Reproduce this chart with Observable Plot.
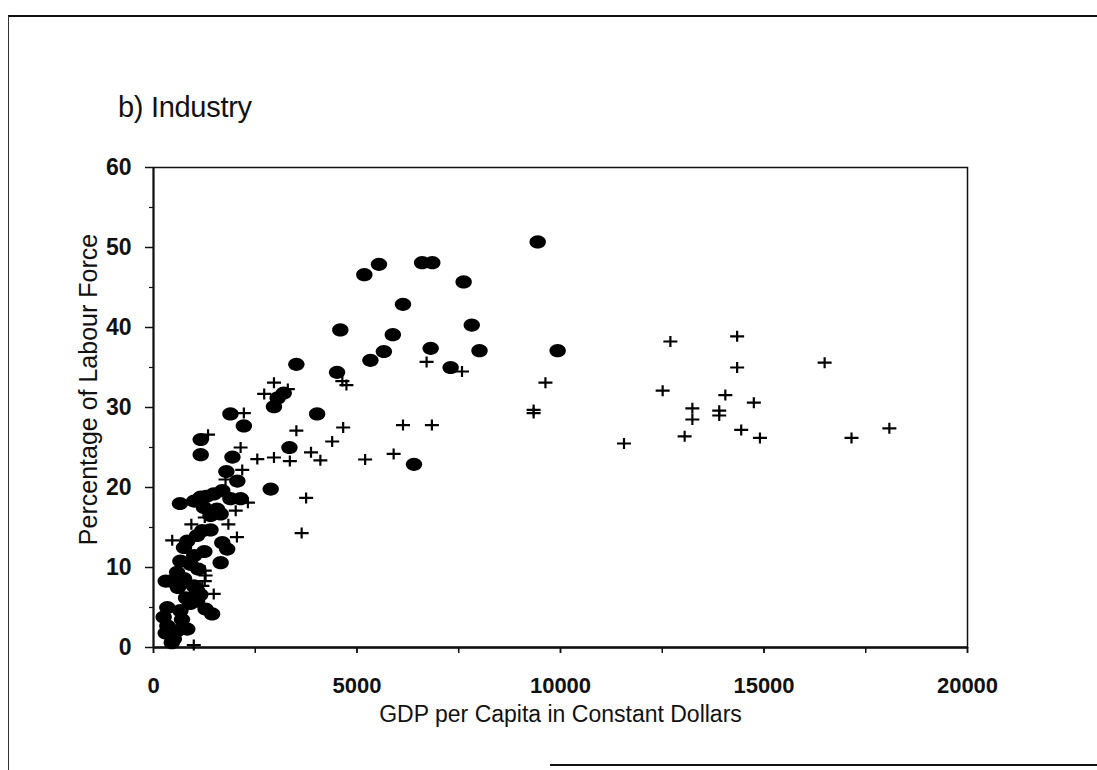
<!DOCTYPE html>
<html>
<head>
<meta charset="utf-8">
<script src="https://cdn.jsdelivr.net/npm/d3@7"></script>
<script src="https://cdn.jsdelivr.net/npm/@observablehq/plot@0.6"></script>
<style>
  html, body { margin: 0; padding: 0; background: #fff; }
  #page { position: relative; width: 1097px; height: 770px; overflow: hidden; font-family: "Liberation Sans", Arial, Helvetica, sans-serif; }
  #outer { position: absolute; left: 8px; top: 15px; width: 1100px; height: 760px; border-top: 2px solid #111; border-left: 1.5px solid #333; }
  #outer-bottom { position: absolute; left: 550px; top: 764px; width: 560px; border-top: 2px solid #111; }
  #title { position: absolute; left: 118px; top: 91px; font-size: 29px; color: #111; letter-spacing: -0.3px; }
  #chart { position: absolute; left: 0; top: 0; }
</style>
</head>
<body>
<div id="page">
  <div id="outer"></div>
  <div id="outer-bottom"></div>
  <div id="title">b) Industry</div>
  <div id="chart"></div>
</div>
<script>
// GDP per capita (constant dollars) and industry share of the labour force, two groups of countries
const circleGdp = [
  9440, 6600, 6850, 5540, 5180, 7620, 6130, 7820, 4590, 5880,
  6810, 8010, 9930, 5660, 5330, 3510, 7300, 4510, 2960, 3050,
  3200, 4020, 1890, 2220, 1160, 3340, 1160, 1940, 6400, 1790,
  2060, 2880, 650, 1160, 1480, 1690, 1890, 2140, 1240, 1560,
  1400, 1650, 1300, 1000, 830, 1070, 1690, 1810, 1200, 1400,
  1650, 910, 660, 580, 420, 300, 750, 990, 1070, 1070,
  1150, 340, 660, 1280, 900, 1440, 340, 580, 830, 500,
  700, 450, 300, 1250, 250, 800, 600, 1000, 750, 1100
];
const circleShare = [
  50.7, 48.1, 48.1, 47.9, 46.6, 45.7, 42.9, 40.3, 39.7, 39.1,
  37.4, 37.1, 37.1, 37.0, 35.9, 35.4, 35.0, 34.4, 30.1, 31.2,
  31.8, 29.2, 29.2, 27.7, 26.0, 25.0, 24.1, 23.8, 22.9, 22.0,
  20.8, 19.8, 18.0, 18.8, 19.2, 19.6, 18.6, 18.6, 17.5, 17.3,
  16.5, 16.7, 18.9, 18.3, 13.3, 14.0, 13.1, 12.3, 14.6, 14.7,
  10.6, 10.4, 10.8, 9.4, 8.3, 8.3, 8.6, 7.7, 7.1, 5.8,
  6.6, 5.0, 4.6, 4.8, 5.5, 4.2, 2.7, 2.1, 2.3, 1.05,
  3.5, 0.6, 1.8, 12.0, 3.8, 6.2, 7.5, 11.5, 12.5, 9.8
];

const crossGdp = [
  14340, 12700, 14340, 16490, 9630, 12510, 14050, 14750, 13240, 13240,
  13900, 13900, 9340, 9340, 14440, 14900, 13050, 11560, 17150, 18080,
  6710, 7580, 4640, 4740, 2960, 3300, 2720, 2220, 3510, 4660,
  6130, 6840, 4390, 2140, 3870, 4100, 5200, 5900, 2550, 2960,
  3350, 2180, 1770, 3750, 3640, 2320, 2020, 1340, 460, 930,
  1260, 1840, 2050, 1480, 1260, 1280, 1260, 1200, 990
];
const crossShare = [
  38.9, 38.25, 35.0, 35.6, 33.1, 32.1, 31.55, 30.6, 29.9, 28.5,
  29.6, 29.0, 29.7, 29.3, 27.2, 26.2, 26.4, 25.5, 26.2, 27.4,
  35.7, 34.5, 33.3, 32.8, 33.1, 32.3, 31.7, 29.3, 27.1, 27.5,
  27.8, 27.8, 25.75, 25.0, 24.4, 23.4, 23.5, 24.2, 23.55, 23.75,
  23.3, 22.2, 21.0, 18.7, 14.3, 18.1, 17.1, 26.6, 13.4, 15.4,
  16.25, 15.4, 13.8, 6.7, 9.6, 9.0, 8.3, 7.7, 0.3
];

const xMajorTicks = [0, 5000, 10000, 15000, 20000];
const xMinorTicks = [0, 2500, 5000, 7500, 10000, 12500, 15000, 17500, 20000];
const yMajorTicks = [0, 10, 20, 30, 40, 50, 60];
const yMinorTicks = [5, 15, 25, 35, 45, 55];

const circles = circleGdp.map((g, i) => ({gdp: g, share: circleShare[i]}));
const crosses = crossGdp.map((g, i) => ({gdp: g, share: crossShare[i]}));

// Filled ellipse, slightly wider than tall
const ellipse = {
  draw(ctx) {
    const rx = 8.2, ry = 6.6, k = 0.5523;
    ctx.moveTo(rx, 0);
    ctx.bezierCurveTo(rx, ry * k, rx * k, ry, 0, ry);
    ctx.bezierCurveTo(-rx * k, ry, -rx, ry * k, -rx, 0);
    ctx.bezierCurveTo(-rx, -ry * k, -rx * k, -ry, 0, -ry);
    ctx.bezierCurveTo(rx * k, -ry, rx, -ry * k, rx, 0);
    ctx.closePath();
  }
};
// Plus sign with a longer horizontal arm
const cross = {
  draw(ctx) {
    ctx.moveTo(-7, 0); ctx.lineTo(7, 0);
    ctx.moveTo(0, -5.5); ctx.lineTo(0, 5.5);
  }
};

const font = '"Liberation Sans", Arial, Helvetica, sans-serif';

const chart = Plot.plot({
  width: 1097,
  height: 770,
  marginLeft: 153,
  marginRight: 130,
  marginTop: 167,
  marginBottom: 123,
  style: {fontFamily: font, color: "#111", background: "transparent"},
  x: {domain: [0, 20000]},
  y: {domain: [0, 60]},
  marks: [
    Plot.frame({stroke: "#111", strokeWidth: 1.5}),
    Plot.axisX({ticks: xMinorTicks, tickSize: 6, tickFormat: () => "", label: null, strokeWidth: 1.5}),
    Plot.axisX({ticks: xMajorTicks, tickSize: 6, tickPadding: 24, tickFormat: d => String(d), label: null,
      fontSize: 22, fontWeight: "bold", strokeWidth: 1.5}),
    Plot.axisY({ticks: yMinorTicks, tickSize: 4, tickFormat: () => "", label: null, strokeWidth: 1.2}),
    Plot.axisY({ticks: yMajorTicks, tickSize: 8, tickPadding: 14, tickFormat: d => String(d), label: null,
      fontSize: 23, fontWeight: "bold", strokeWidth: 1.5}),
    Plot.ruleY([0], {stroke: "#111", strokeWidth: 2.5}),
    Plot.ruleX([0], {stroke: "#111", strokeWidth: 2}),
    Plot.text(["Percentage of Labour Force"], {frameAnchor: "left", dx: -65, dy: -18, rotate: -90,
      textAnchor: "middle", fontSize: 25, fill: "#111"}),
    Plot.text(["GDP per Capita in Constant Dollars"], {frameAnchor: "bottom", dy: 74,
      textAnchor: "middle", fontSize: 23, fill: "#111"}),
    Plot.dot(circles, {x: "gdp", y: "share", symbol: ellipse, r: 8, fill: "#000", stroke: "none"}),
    Plot.dot(crosses, {x: "gdp", y: "share", symbol: cross, r: 7, fill: "none", stroke: "#000", strokeWidth: 2.2})
  ]
});
document.getElementById("chart").appendChild(chart);
</script>
</body>
</html>
